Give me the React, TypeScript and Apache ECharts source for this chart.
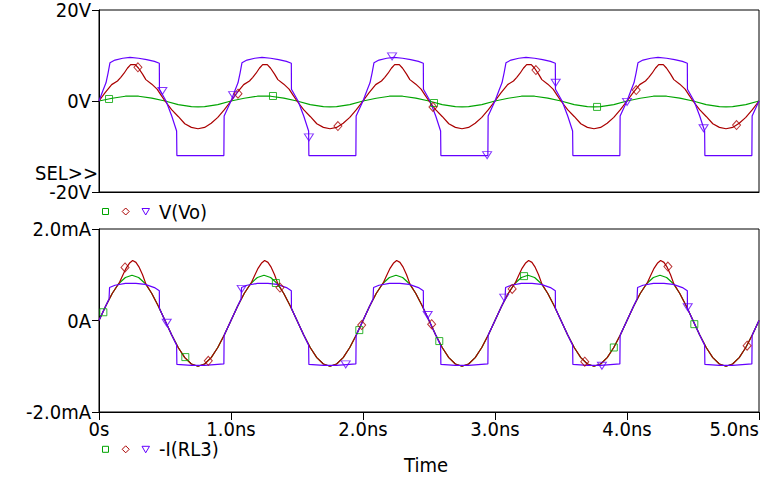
import React, { useEffect, useRef } from "react";
import * as echarts from "echarts";

// ---------- tick labels / texts ----------
const xTickLabels = ["0s", "1.0ns", "2.0ns", "3.0ns", "4.0ns", "5.0ns"];
const vTickLabels = ["-20V", "0V", "20V"];
const iTickLabels = ["-2.0mA", "0A", "2.0mA"];
const topTraceName = "V(Vo)";
const bottomTraceName = "-I(RL3)";
const xAxisTitle = "Time";
const selText = "SEL>>";

// ---------- top plot: voltages (time ns, volts) ----------
const vGreen: number[][] = [
  [0, 0], [0.1, 0.6], [0.2, 1.05], [0.25, 1.1], [0.3, 1.05], [0.4, 0.65], [0.5, 0], [0.6, -0.8], [0.7, -1.25], [0.75, -1.3], [0.8, -1.25], [0.9, -0.8],
  [1, 0], [1.1, 0.6], [1.2, 1.05], [1.25, 1.1], [1.3, 1.05], [1.4, 0.65], [1.5, 0], [1.6, -0.8], [1.7, -1.25], [1.75, -1.3], [1.8, -1.25], [1.9, -0.8],
  [2, 0], [2.1, 0.6], [2.2, 1.05], [2.25, 1.1], [2.3, 1.05], [2.4, 0.65], [2.5, 0], [2.6, -0.8], [2.7, -1.25], [2.75, -1.3], [2.8, -1.25], [2.9, -0.8],
  [3, 0], [3.1, 0.6], [3.2, 1.05], [3.25, 1.1], [3.3, 1.05], [3.4, 0.65], [3.5, 0], [3.6, -0.8], [3.7, -1.25], [3.75, -1.3], [3.8, -1.25], [3.9, -0.8],
  [4, 0], [4.1, 0.6], [4.2, 1.05], [4.25, 1.1], [4.3, 1.05], [4.4, 0.65], [4.5, 0], [4.6, -0.8], [4.7, -1.25], [4.75, -1.3], [4.8, -1.25], [4.9, -0.8],
  [5, 0],
];

const vRed: number[][] = [
  [0, 0], [0.045, 1.8], [0.096, 3.6], [0.14, 4.4], [0.165, 5.2], [0.19, 6.1], [0.215, 7.2], [0.24, 8], [0.275, 8], [0.3, 7.2], [0.33, 5.9], [0.355, 4.7], [0.4, 3.7], [0.44, 2.6], [0.47, 1.3], [0.5, 0], [0.55, -1.9], [0.6, -3.4], [0.65, -5], [0.7, -5.8], [0.75, -6.1], [0.8, -5.8], [0.85, -4.9], [0.9, -3.6], [0.95, -1.9],
  [1, 0], [1.045, 1.8], [1.096, 3.6], [1.14, 4.4], [1.165, 5.2], [1.19, 6.1], [1.215, 7.2], [1.24, 8], [1.275, 8], [1.3, 7.2], [1.33, 5.9], [1.355, 4.7], [1.4, 3.7], [1.44, 2.6], [1.47, 1.3], [1.5, 0], [1.55, -1.9], [1.6, -3.4], [1.65, -5], [1.7, -5.8], [1.75, -6.1], [1.8, -5.8], [1.85, -4.9], [1.9, -3.6], [1.95, -1.9],
  [2, 0], [2.045, 1.8], [2.096, 3.6], [2.14, 4.4], [2.165, 5.2], [2.19, 6.1], [2.215, 7.2], [2.24, 8], [2.275, 8], [2.3, 7.2], [2.33, 5.9], [2.355, 4.7], [2.4, 3.7], [2.44, 2.6], [2.47, 1.3], [2.5, 0], [2.55, -1.9], [2.6, -3.4], [2.65, -5], [2.7, -5.8], [2.75, -6.1], [2.8, -5.8], [2.85, -4.9], [2.9, -3.6], [2.95, -1.9],
  [3, 0], [3.045, 1.8], [3.096, 3.6], [3.14, 4.4], [3.165, 5.2], [3.19, 6.1], [3.215, 7.2], [3.24, 8], [3.275, 8], [3.3, 7.2], [3.33, 5.9], [3.355, 4.7], [3.4, 3.7], [3.44, 2.6], [3.47, 1.3], [3.5, 0], [3.55, -1.9], [3.6, -3.4], [3.65, -5], [3.7, -5.8], [3.75, -6.1], [3.8, -5.8], [3.85, -4.9], [3.9, -3.6], [3.95, -1.9],
  [4, 0], [4.045, 1.8], [4.096, 3.6], [4.14, 4.4], [4.165, 5.2], [4.19, 6.1], [4.215, 7.2], [4.24, 8], [4.275, 8], [4.3, 7.2], [4.33, 5.9], [4.355, 4.7], [4.4, 3.7], [4.44, 2.6], [4.47, 1.3], [4.5, 0], [4.55, -1.9], [4.6, -3.4], [4.65, -5], [4.7, -5.8], [4.75, -6.1], [4.8, -5.8], [4.85, -4.9], [4.9, -3.6], [4.95, -1.9],
  [5, 0],
];

const vBlue: number[][] = [
  [0, 0], [0.03, 2.3], [0.053, 4], [0.069, 6.2], [0.083, 8.4], [0.121, 9], [0.18, 9.4], [0.235, 9.6], [0.3, 9.4], [0.361, 9.1], [0.42, 8.7], [0.457, 8.3], [0.458, 2.6], [0.508, 0], [0.551, -3.3], [0.588, -6.6], [0.59, -12], [0.946, -12], [0.948, -3.3],
  [1, 0], [1.03, 2.3], [1.053, 4], [1.069, 6.2], [1.083, 8.4], [1.121, 9], [1.18, 9.4], [1.235, 9.6], [1.3, 9.4], [1.361, 9.1], [1.42, 8.7], [1.457, 8.3], [1.458, 2.6], [1.508, 0], [1.551, -3.3], [1.588, -6.6], [1.59, -12], [1.946, -12], [1.948, -3.3],
  [2, 0], [2.03, 2.3], [2.053, 4], [2.069, 6.2], [2.083, 8.4], [2.121, 9], [2.18, 9.4], [2.235, 9.6], [2.3, 9.4], [2.361, 9.1], [2.42, 8.7], [2.457, 8.3], [2.458, 2.6], [2.508, 0], [2.551, -3.3], [2.588, -6.6], [2.59, -12], [2.946, -12], [2.948, -3.3],
  [3, 0], [3.03, 2.3], [3.053, 4], [3.069, 6.2], [3.083, 8.4], [3.121, 9], [3.18, 9.4], [3.235, 9.6], [3.3, 9.4], [3.361, 9.1], [3.42, 8.7], [3.457, 8.3], [3.458, 2.6], [3.508, 0], [3.551, -3.3], [3.588, -6.6], [3.59, -12], [3.946, -12], [3.948, -3.3],
  [4, 0], [4.03, 2.3], [4.053, 4], [4.069, 6.2], [4.083, 8.4], [4.121, 9], [4.18, 9.4], [4.235, 9.6], [4.3, 9.4], [4.361, 9.1], [4.42, 8.7], [4.457, 8.3], [4.458, 2.6], [4.508, 0], [4.551, -3.3], [4.588, -6.6], [4.59, -12], [4.946, -12], [4.948, -3.3],
  [5, 0],
];

// markers on the top traces
const vGreenMarks: number[][] = [[0.076, 0.44], [1.318, 1.1], [2.538, -0.44], [3.773, -1.3]];
const vRedMarks: number[][] = [[0.295, 7.4], [1.053, 1.6], [1.81, -5.5], [2.53, -1.3], [3.31, 6.8], [4.07, 2.4], [4.83, -5.3]];
const vBlueMarks: number[][] = [[0.48, 2.2], [1.016, 1.3], [1.59, -8.0], [2.22, 9.8], [2.94, -11.9], [3.46, 4.0], [4.0, -0.2], [4.58, -6.0]];

// ---------- bottom plot: currents (time ns, mA) ----------
const iGreen: number[][] = [
  [0, 0], [0.05, 0.31], [0.1, 0.59], [0.15, 0.81], [0.2, 0.94], [0.25, 0.99], [0.3, 0.94], [0.35, 0.81], [0.4, 0.59], [0.45, 0.31], [0.5, 0], [0.55, -0.31], [0.6, -0.59], [0.65, -0.81], [0.7, -0.95], [0.75, -1], [0.8, -0.95], [0.85, -0.81], [0.9, -0.59], [0.95, -0.31],
  [1, 0], [1.05, 0.31], [1.1, 0.59], [1.15, 0.81], [1.2, 0.94], [1.25, 0.99], [1.3, 0.94], [1.35, 0.81], [1.4, 0.59], [1.45, 0.31], [1.5, 0], [1.55, -0.31], [1.6, -0.59], [1.65, -0.81], [1.7, -0.95], [1.75, -1], [1.8, -0.95], [1.85, -0.81], [1.9, -0.59], [1.95, -0.31],
  [2, 0], [2.05, 0.31], [2.1, 0.59], [2.15, 0.81], [2.2, 0.94], [2.25, 0.99], [2.3, 0.94], [2.35, 0.81], [2.4, 0.59], [2.45, 0.31], [2.5, 0], [2.55, -0.31], [2.6, -0.59], [2.65, -0.81], [2.7, -0.95], [2.75, -1], [2.8, -0.95], [2.85, -0.81], [2.9, -0.59], [2.95, -0.31],
  [3, 0], [3.05, 0.31], [3.1, 0.59], [3.15, 0.81], [3.2, 0.94], [3.25, 0.99], [3.3, 0.94], [3.35, 0.81], [3.4, 0.59], [3.45, 0.31], [3.5, 0], [3.55, -0.31], [3.6, -0.59], [3.65, -0.81], [3.7, -0.95], [3.75, -1], [3.8, -0.95], [3.85, -0.81], [3.9, -0.59], [3.95, -0.31],
  [4, 0], [4.05, 0.31], [4.1, 0.59], [4.15, 0.81], [4.2, 0.94], [4.25, 0.99], [4.3, 0.94], [4.35, 0.81], [4.4, 0.59], [4.45, 0.31], [4.5, 0], [4.55, -0.31], [4.6, -0.59], [4.65, -0.81], [4.7, -0.95], [4.75, -1], [4.8, -0.95], [4.85, -0.81], [4.9, -0.59], [4.95, -0.31],
  [5, 0],
];

const iRed: number[][] = [
  [0, 0], [0.05, 0.31], [0.1, 0.59], [0.155, 0.83], [0.18, 0.99], [0.205, 1.14], [0.23, 1.25], [0.255, 1.31], [0.28, 1.27], [0.305, 1.16], [0.33, 1], [0.355, 0.8], [0.4, 0.59], [0.45, 0.31], [0.5, 0], [0.55, -0.31], [0.6, -0.59], [0.65, -0.81], [0.7, -0.95], [0.75, -1], [0.8, -0.95], [0.85, -0.81], [0.9, -0.59], [0.95, -0.31],
  [1, 0], [1.05, 0.31], [1.1, 0.59], [1.155, 0.83], [1.18, 0.99], [1.205, 1.14], [1.23, 1.25], [1.255, 1.31], [1.28, 1.27], [1.305, 1.16], [1.33, 1], [1.355, 0.8], [1.4, 0.59], [1.45, 0.31], [1.5, 0], [1.55, -0.31], [1.6, -0.59], [1.65, -0.81], [1.7, -0.95], [1.75, -1], [1.8, -0.95], [1.85, -0.81], [1.9, -0.59], [1.95, -0.31],
  [2, 0], [2.05, 0.31], [2.1, 0.59], [2.155, 0.83], [2.18, 0.99], [2.205, 1.14], [2.23, 1.25], [2.255, 1.31], [2.28, 1.27], [2.305, 1.16], [2.33, 1], [2.355, 0.8], [2.4, 0.59], [2.45, 0.31], [2.5, 0], [2.55, -0.31], [2.6, -0.59], [2.65, -0.81], [2.7, -0.95], [2.75, -1], [2.8, -0.95], [2.85, -0.81], [2.9, -0.59], [2.95, -0.31],
  [3, 0], [3.05, 0.31], [3.1, 0.59], [3.155, 0.83], [3.18, 0.99], [3.205, 1.14], [3.23, 1.25], [3.255, 1.31], [3.28, 1.27], [3.305, 1.16], [3.33, 1], [3.355, 0.8], [3.4, 0.59], [3.45, 0.31], [3.5, 0], [3.55, -0.31], [3.6, -0.59], [3.65, -0.81], [3.7, -0.95], [3.75, -1], [3.8, -0.95], [3.85, -0.81], [3.9, -0.59], [3.95, -0.31],
  [4, 0], [4.05, 0.31], [4.1, 0.59], [4.155, 0.83], [4.18, 0.99], [4.205, 1.14], [4.23, 1.25], [4.255, 1.31], [4.28, 1.27], [4.305, 1.16], [4.33, 1], [4.355, 0.8], [4.4, 0.59], [4.45, 0.31], [4.5, 0], [4.55, -0.31], [4.6, -0.59], [4.65, -0.81], [4.7, -0.95], [4.75, -1], [4.8, -0.95], [4.85, -0.81], [4.9, -0.59], [4.95, -0.31],
  [5, 0],
];

const iBlue: number[][] = [
  [0, 0], [0.04, 0.25], [0.076, 0.47], [0.08, 0.72], [0.121, 0.77], [0.2, 0.81], [0.28, 0.81], [0.35, 0.79], [0.42, 0.72], [0.457, 0.65], [0.458, 0.26], [0.5, 0], [0.55, -0.31], [0.588, -0.54], [0.59, -0.96], [0.7, -0.98], [0.8, -0.98], [0.946, -0.95], [0.948, -0.32],
  [1, 0], [1.04, 0.25], [1.076, 0.47], [1.08, 0.72], [1.121, 0.77], [1.2, 0.81], [1.28, 0.81], [1.35, 0.79], [1.42, 0.72], [1.457, 0.65], [1.458, 0.26], [1.5, 0], [1.55, -0.31], [1.588, -0.54], [1.59, -0.96], [1.7, -0.98], [1.8, -0.98], [1.946, -0.95], [1.948, -0.32],
  [2, 0], [2.04, 0.25], [2.076, 0.47], [2.08, 0.72], [2.121, 0.77], [2.2, 0.81], [2.28, 0.81], [2.35, 0.79], [2.42, 0.72], [2.457, 0.65], [2.458, 0.26], [2.5, 0], [2.55, -0.31], [2.588, -0.54], [2.59, -0.96], [2.7, -0.98], [2.8, -0.98], [2.946, -0.95], [2.948, -0.32],
  [3, 0], [3.04, 0.25], [3.076, 0.47], [3.08, 0.72], [3.121, 0.77], [3.2, 0.81], [3.28, 0.81], [3.35, 0.79], [3.42, 0.72], [3.457, 0.65], [3.458, 0.26], [3.5, 0], [3.55, -0.31], [3.588, -0.54], [3.59, -0.96], [3.7, -0.98], [3.8, -0.98], [3.946, -0.95], [3.948, -0.32],
  [4, 0], [4.04, 0.25], [4.076, 0.47], [4.08, 0.72], [4.121, 0.77], [4.2, 0.81], [4.28, 0.81], [4.35, 0.79], [4.42, 0.72], [4.457, 0.65], [4.458, 0.26], [4.5, 0], [4.55, -0.31], [4.588, -0.54], [4.59, -0.96], [4.7, -0.98], [4.8, -0.98], [4.946, -0.95], [4.948, -0.32],
  [5, 0],
];

const iGreenMarks: number[][] = [[0.033, 0.18], [0.654, -0.8], [1.34, 0.82], [1.972, -0.21], [2.578, -0.45], [3.22, 0.97], [3.9, -0.59], [4.51, -0.08]];
const iRedMarks: number[][] = [[0.197, 1.16], [0.828, -0.88], [1.371, 0.72], [1.99, -0.1], [2.52, -0.08], [3.13, 0.69], [3.68, -0.9], [4.31, 1.18], [4.91, -0.55]];
const iBlueMarks: number[][] = [[0.513, -0.05], [1.081, 0.69], [1.869, -0.96], [2.49, 0.12], [3.07, 0.5], [3.81, -0.99], [4.46, 0.29]];

// ---------- styles ----------
const GREEN = "#00a400";
const RED = "#aa0000";
const BLUE = "#6400ff";
const FONT = "'Liberation Sans Narrow', 'DejaVu Sans Condensed', 'Liberation Sans', sans-serif";
const FS = 20;

function lineSeries(data: number[][], color: string, idx: number, z: number) {
  return {
    type: "line",
    xAxisIndex: idx,
    yAxisIndex: idx,
    data,
    symbol: "none",
    showSymbol: false,
    silent: true,
    z,
    lineStyle: { width: 1.2, color },
    itemStyle: { color },
  };
}

function markSeries(data: number[][], color: string, idx: number, symbol: string, size: number[], rotate = 0) {
  return {
    type: "scatter",
    xAxisIndex: idx,
    yAxisIndex: idx,
    data,
    symbol,
    symbolSize: size,
    symbolRotate: rotate,
    silent: true,
    z: 5,
    itemStyle: { color: "rgba(0,0,0,0)", borderColor: color, borderWidth: 1 },
  };
}

function legendMarks(cy: number, name: string) {
  return [
    { type: "rect", shape: { x: 102.5, y: cy - 3, width: 6, height: 6 }, style: { fill: "none", stroke: GREEN, lineWidth: 1 } },
    { type: "polygon", shape: { points: [[125.7, cy - 3.5], [129.2, cy], [125.7, cy + 3.5], [122.2, cy]] }, style: { fill: "none", stroke: RED, lineWidth: 1 } },
    { type: "polygon", shape: { points: [[142, cy - 3], [149.5, cy - 3], [145.7, cy + 3.5]] }, style: { fill: "none", stroke: BLUE, lineWidth: 1 } },
    { type: "text", x: 159, y: cy, style: { text: name, fill: "#000", font: `${FS}px ${FONT}`, textAlign: "left", textVerticalAlign: "middle" } },
  ];
}

export default function App() {
  const ref = useRef<HTMLDivElement>(null);
  useEffect(() => {
    if (!ref.current) return;
    const chart = echarts.init(ref.current, null, { renderer: "svg", width: 770, height: 479 });
    const axisText = { fontSize: FS, fontFamily: FONT, color: "#000", lineHeight: 18 };
    const blackLine = { color: "#000", width: 1 };
    chart.setOption({
      animation: false,
      backgroundColor: "#ffffff",
      grid: [
        { left: 99, top: 9, width: 660, height: 183, show: true, borderColor: "#000", borderWidth: 1, backgroundColor: "transparent" },
        { left: 99, top: 229, width: 660, height: 183, show: true, borderColor: "#000", borderWidth: 1, backgroundColor: "transparent" },
      ],
      xAxis: [
        {
          gridIndex: 0, type: "value", min: 0, max: 5, interval: 1,
          axisLine: { show: true, onZero: false, lineStyle: blackLine }, axisTick: { show: false },
          axisLabel: { show: false }, splitLine: { show: false },
        },
        {
          gridIndex: 1, type: "value", min: 0, max: 5, interval: 1,
          axisLine: { show: true, onZero: false, lineStyle: blackLine },
          axisTick: { show: true, inside: false, length: 8, lineStyle: blackLine },
          axisLabel: { ...axisText, margin: 8, alignMaxLabel: "right", formatter: (v: number) => xTickLabels[Math.round(v)] },
          splitLine: { show: false },
        },
      ],
      yAxis: [
        {
          gridIndex: 0, type: "value", min: -20, max: 20, interval: 20,
          axisLine: { show: true, onZero: false, lineStyle: blackLine },
          axisTick: { show: true, inside: false, length: 7, lineStyle: blackLine },
          axisLabel: { ...axisText, margin: 8, formatter: (v: number) => vTickLabels[Math.round((v + 20) / 20)] },
          splitLine: { show: false },
        },
        {
          gridIndex: 1, type: "value", min: -2, max: 2, interval: 2,
          axisLine: { show: true, onZero: false, lineStyle: blackLine },
          axisTick: { show: true, inside: false, length: 7, lineStyle: blackLine },
          axisLabel: { ...axisText, margin: 8, formatter: (v: number) => iTickLabels[Math.round((v + 2) / 2)] },
          splitLine: { show: false },
        },
      ],
      series: [
        lineSeries(vGreen, GREEN, 0, 2),
        lineSeries(vRed, RED, 0, 3),
        lineSeries(vBlue, BLUE, 0, 4),
        markSeries(vGreenMarks, GREEN, 0, "rect", [7, 7]),
        markSeries(vRedMarks, RED, 0, "diamond", [8, 9]),
        markSeries(vBlueMarks, BLUE, 0, "triangle", [9, 7], 180),
        lineSeries(iGreen, GREEN, 1, 2),
        lineSeries(iRed, RED, 1, 3),
        lineSeries(iBlue, BLUE, 1, 4),
        markSeries(iGreenMarks, GREEN, 1, "rect", [7, 7]),
        markSeries(iRedMarks, RED, 1, "diamond", [8, 9]),
        markSeries(iBlueMarks, BLUE, 1, "triangle", [9, 7], 180),
      ],
      graphic: [
        ...legendMarks(211.5, topTraceName),
        ...legendMarks(449.3, bottomTraceName),
        { type: "text", x: 98, y: 173, style: { text: selText, fill: "#000", font: `${FS}px ${FONT}`, textAlign: "right", textVerticalAlign: "middle" } },
        { type: "text", x: 426, y: 465, style: { text: xAxisTitle, fill: "#000", font: `${FS}px ${FONT}`, textAlign: "center", textVerticalAlign: "middle" } },
      ],
    });
    return () => chart.dispose();
  }, []);
  return <div ref={ref} style={{ position: "fixed", left: 0, top: 0, width: 770, height: 479, background: "#fff" }} />;
}
